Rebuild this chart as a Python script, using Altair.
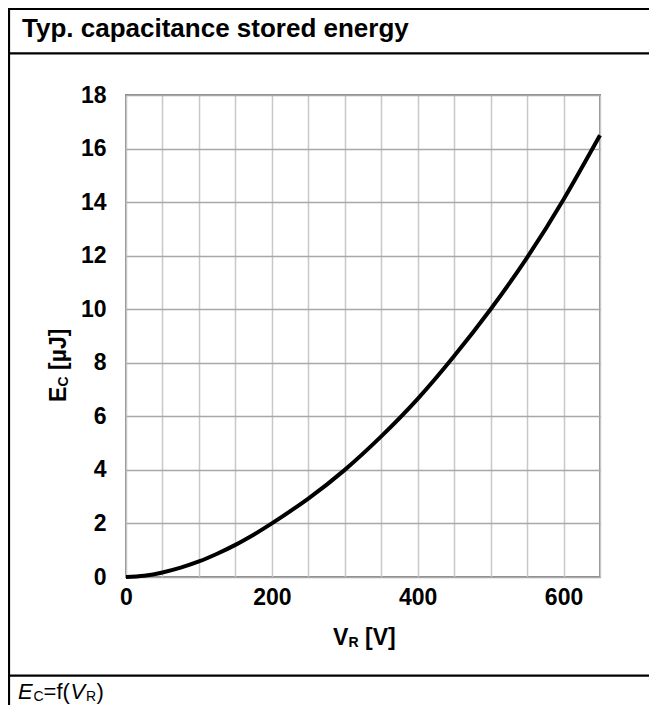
import altair as alt
import pandas as pd

# ---- data ----
V_R = [0, 25, 50, 75, 100, 125, 150, 175, 200, 250, 300, 350, 400, 450, 500, 550, 600, 650]
E_C = [0, 0.05, 0.17, 0.35, 0.58, 0.87, 1.2, 1.58, 2.0, 2.93, 4.0, 5.25, 6.65, 8.25, 10.0, 11.93, 14.1, 16.5]

X_TICKS = [0, 50, 100, 150, 200, 250, 300, 350, 400, 450, 500, 550, 600, 650]
Y_TICKS = [0, 2, 4, 6, 8, 10, 12, 14, 16, 18]

TITLE = "Typ. capacitance stored energy"
X_TITLE = ["V", "R", "[V]"]
Y_TITLE = ["E", "C", "[µJ]"]
FOOTER = ["E", "C", "=f(", "V", "R", ")"]

FONT = "Liberation Sans"

# plot-area origin in page pixels (page margin 8 + padding)
OX, OY = 126, 95
W, H = 474, 482
SVG_W, SVG_H = 641, 697
PAD = {"left": 118, "top": 87, "right": SVG_W - 118 - W, "bottom": SVG_H - 87 - H}

df = pd.DataFrame({"V": V_R, "E": E_C})

line = alt.Chart(df).mark_line(color="black", strokeWidth=4, interpolate="natural").encode(
    x=alt.X("V:Q", scale=alt.Scale(domain=[0, 650], nice=False), title=None,
            axis=alt.Axis(values=X_TICKS, labelExpr="datum.value % 200 === 0 ? datum.label : ''",
                          ticks=False, domain=False, labelPadding=9, labelFlush=False,
                          labelOverlap=False, gridColor="#c8c8c8")),
    y=alt.Y("E:Q", scale=alt.Scale(domain=[0, 18], nice=False), title=None,
            axis=alt.Axis(values=Y_TICKS, ticks=False, domain=False, labelPadding=20,
                          labelOverlap=False, gridColor="#a8a8a8")),
)


def txt(text, x, y, size, weight="bold", style="normal", angle=0):
    return alt.Chart(pd.DataFrame({"t": [text]})).mark_text(
        align="left", baseline="alphabetic", fontSize=size, fontWeight=weight,
        fontStyle=style, angle=angle, font=FONT, color="black"
    ).encode(text="t:N", x=alt.value(x - OX), y=alt.value(y - OY))


def hrule(y, x0=8, x1=649):
    return alt.Chart(pd.DataFrame({"a": [0]})).mark_rule(color="black", strokeWidth=2.2).encode(
        x=alt.value(x0 - OX), x2=alt.value(x1 - OX), y=alt.value(y - OY))


def vrule(x, y0=8, y1=705):
    return alt.Chart(pd.DataFrame({"a": [0]})).mark_rule(color="black", strokeWidth=2.2).encode(
        x=alt.value(x - OX), y=alt.value(y0 - OY), y2=alt.value(y1 - OY))


FY = 699  # footer baseline
texts = [
    txt(TITLE, 22, 37, 26),
    # x axis title  V_R [V]
    txt(X_TITLE[0], 333, 645, 23),
    txt(X_TITLE[1], 348.5, 647, 14),
    txt(X_TITLE[2], 365, 645, 23),
    # y axis title  E_C [µJ]  (rotated, reading upward)
    txt(Y_TITLE[0], 66, 402, 23, angle=270),
    txt(Y_TITLE[1], 68, 386.5, 14, angle=270),
    txt(Y_TITLE[2], 66, 370, 23, angle=270),
    # footer  E_C=f(V_R)
    txt(FOOTER[0], 18, FY, 22, weight="normal", style="italic"),
    txt(FOOTER[1], 33.5, FY + 2, 14, weight="normal"),
    txt(FOOTER[2], 43.6, FY, 22, weight="normal"),
    txt(FOOTER[3], 70.5, FY, 22, weight="normal", style="italic"),
    txt(FOOTER[4], 86, FY + 2, 14, weight="normal"),
    txt(FOOTER[5], 96.5, FY, 22, weight="normal"),
]

rules = [
    hrule(9),
    hrule(53.3),
    hrule(675.7),
    vrule(9),
]

chart = alt.layer(line, *texts, *rules).properties(
    width=W, height=H, padding=PAD, autosize=alt.AutoSizeParams(type="none"),
).configure_view(
    stroke="#8c8c8c", strokeWidth=2
).configure_axis(
    labelFont=FONT, labelFontSize=23, labelFontWeight="bold", labelColor="black",
    gridWidth=1.5,
)

chart.save("out.html", embed_options={"renderer": "svg", "actions": False})
